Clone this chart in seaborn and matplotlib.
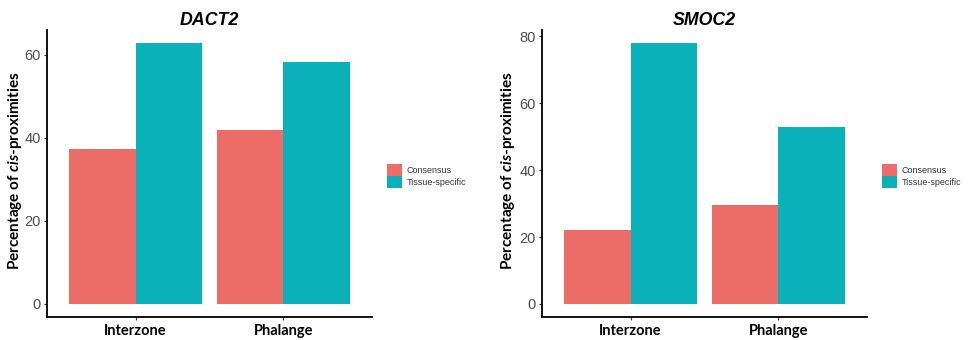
import matplotlib
matplotlib.use("Agg")
import matplotlib.pyplot as plt
from matplotlib.patches import Patch
import seaborn as sns
import pandas as pd

# Percentages of cis-proximities per tissue, split by class
tissues = ["Interzone", "Phalange"]
classes = ["Consensus", "Tissue-specific"]
dact2_consensus = [37.2, 41.8]
dact2_specific = [62.8, 58.2]
smoc2_consensus = [22.0, 29.5]
smoc2_specific = [78.0, 52.9]
y_ticks_dact2 = [0, 20, 40, 60]
y_ticks_smoc2 = [0, 20, 40, 60, 80]

palette = {"Consensus": "#EC6D67", "Tissue-specific": "#0AB1B8"}

sns.set_theme(style="white")
plt.rcParams["font.family"] = ["Liberation Sans", "DejaVu Sans"]
plt.rcParams["mathtext.fontset"] = "custom"
plt.rcParams["mathtext.it"] = "Lato:italic:bold"
plt.rcParams["mathtext.rm"] = "Lato:bold"


def frame(consensus, specific):
    rows = []
    for t, c, s in zip(tissues, consensus, specific):
        rows.append({"tissue": t, "cls": classes[0], "pct": c})
        rows.append({"tissue": t, "cls": classes[1], "pct": s})
    return pd.DataFrame(rows)


W, H = 968, 340
fig = plt.figure(figsize=(W / 100, H / 100), dpi=100)
fig.patch.set_facecolor("white")


def panel(x0, x1, y_top, y_bot, df, title, yticks, label_x):
    ax = fig.add_axes([x0 / W, 1 - y_bot / H, (x1 - x0) / W, (y_bot - y_top) / H])
    sns.barplot(data=df, x="tissue", y="pct", hue="cls", hue_order=classes,
                order=tissues, palette=palette, width=0.9, gap=0,
                saturation=1, errorbar=None, legend=False, ax=ax,
                edgecolor="none")
    ymax = df["pct"].max()
    ax.set_ylim(-0.05 * ymax, 1.05 * ymax)
    ax.set_xlim(-0.6, 1.6)
    ax.set_yticks(yticks)
    ax.set_yticklabels([str(v) for v in yticks])
    for side in ["top", "right"]:
        ax.spines[side].set_visible(False)
    for side in ["left", "bottom"]:
        ax.spines[side].set_color("black")
        ax.spines[side].set_linewidth(1.3)
    ax.tick_params(axis="both", which="major", length=2.5, width=0.8,
                   color="#333333", left=True, bottom=True)
    ax.tick_params(axis="y", labelsize=10.5, labelcolor="#4D4D4D", pad=2)
    ax.tick_params(axis="x", pad=2.5)
    for lab in ax.get_xticklabels():
        lab.set_fontfamily("Lato")
        lab.set_fontweight("bold")
        lab.set_fontsize(10.5)
        lab.set_color("black")
    ax.set_xlabel("")
    ax.set_ylabel(r"Percentage of $\mathit{cis}$-proximities",
                  fontfamily="Lato", fontweight="bold", fontsize=11,
                  color="black")
    ax.yaxis.set_label_coords(label_x, 0.51)
    ax.set_title(title, fontsize=12.8, fontweight="bold", fontstyle="italic",
                 color="black", pad=3.6)
    return ax


panel(47, 372, 30, 317, frame(dact2_consensus, dact2_specific), "DACT2",
      y_ticks_dact2, -0.072)
panel(542, 867, 30, 317, frame(smoc2_consensus, smoc2_specific), "SMOC2",
      y_ticks_smoc2, -0.077)

handles = [Patch(facecolor=palette[c], edgecolor="none", label=c) for c in classes]
for kx in (387, 882):
    fig.legend(handles=handles, loc="center left",
               bbox_to_anchor=(kx / W, 1 - 176 / H), frameon=False,
               fontsize=6.5, handlelength=1.66, handleheight=1.66,
               labelspacing=0.0, handletextpad=0.55, borderpad=0,
               borderaxespad=0, labelcolor="#333333")

fig.savefig("out.png", dpi=100, facecolor="white")
